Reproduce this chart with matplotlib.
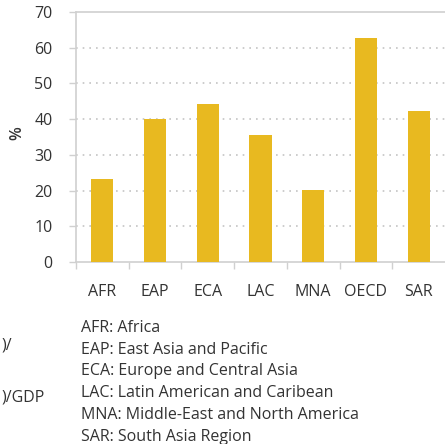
import numpy as np
import matplotlib
matplotlib.use("Agg")
from matplotlib import pyplot as plt

# Chart data
regions = ["AFR", "EAP", "ECA", "LAC", "MNA", "OECD", "SAR"]
values = [23.2, 40.0, 44.2, 35.6, 20.2, 62.7, 42.3]
y_ticks = [0, 10, 20, 30, 40, 50, 60, 70]
legend_lines = [
    "AFR: Africa",
    "EAP: East Asia and Pacific",
    "ECA: Europe and Central Asia",
    "LAC: Latin American and Caribean",
    "MNA: Middle-East and North America",
    "SAR: South Asia Region",
]

plt.rcParams["font.family"] = ["Open Sans", "DejaVu Sans"]
text_color = "#333333"
axis_color = "#d0d0d0"
bar_color = "#E8B920"
fs = 11.5

fig = plt.figure(figsize=(4.45, 4.44), dpi=100)
ax = fig.add_axes([76 / 445, 1 - 262 / 444, 1 - 76 / 445, 250 / 444])

# Bars
x = np.arange(len(regions))
ax.bar(x, values, width=0.42, color=bar_color, zorder=3)

# Axes setup
ax.set_xlim(-0.5, len(regions) - 0.5)
ax.set_ylim(0, 70)
ax.set_yticks(y_ticks)
ax.tick_params(axis="y", length=5, width=1, color=axis_color, pad=12,
               labelsize=fs, labelcolor=text_color)

# Tick marks at the category boundaries, labels at the centres
ax.set_xticks(np.arange(len(regions)) - 0.5)
ax.set_xticklabels([])
ax.tick_params(axis="x", which="major", length=5, width=1, color=axis_color)
ax.set_xticks(x, minor=True)
ax.set_xticklabels(regions, minor=True)
ax.tick_params(axis="x", which="minor", length=0, pad=16,
               labelsize=fs, labelcolor=text_color)

# Grid and spines
for v in y_ticks[1:-1]:
    ax.axhline(v, color="#c4c4c4", lw=1.2, ls=(0, (1, 3)), zorder=1)
for side in ["left", "bottom", "top"]:
    ax.spines[side].set_color(axis_color)
    ax.spines[side].set_linewidth(1.2)
ax.spines["right"].set_visible(False)

fig.text(17 / 445, 1 - 133 / 444, "%", rotation=90, ha="center", va="center",
         fontsize=fs, fontweight="semibold", color=text_color)

# Partially cropped text on the left
fig.text(12 / 445, 1 - 345 / 444, ")/", ha="right", va="center",
         fontsize=fs, color=text_color)
fig.text(45 / 445, 1 - 398 / 444, ")/GDP", ha="right", va="center",
         fontsize=fs, color=text_color)

# Region abbreviations
for i, line in enumerate(legend_lines):
    fig.text(81 / 445, 1 - (328 + i * 21.7) / 444, line, ha="left", va="center",
             fontsize=fs, color=text_color)

fig.savefig("out.png", dpi=100)
